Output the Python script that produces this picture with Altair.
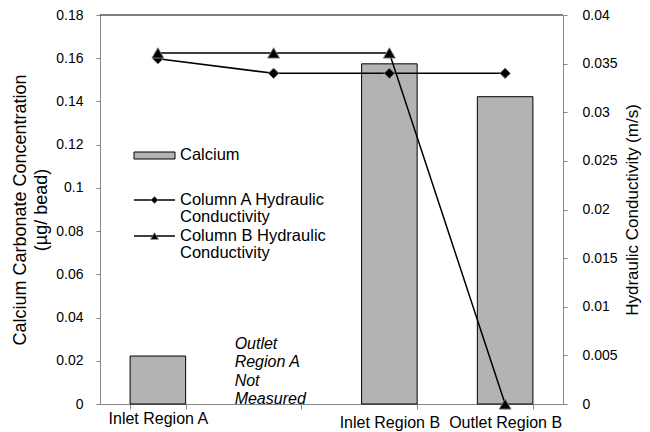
import altair as alt
import pandas as pd

# ---------------- data ----------------
categories = ["Inlet Region A", "Outlet Region A", "Inlet Region B", "Outlet Region B"]
calcium = [0.0222, None, 0.1574, 0.1422]
col_a_hc = [0.0355, 0.0340, 0.0340, 0.0340]
col_b_hc = [0.0361, 0.0361, 0.0361, 0.0]
series_names = ["Column A Hydraulic Conductivity", "Column B Hydraulic Conductivity"]
legend_labels = ["Calcium", "Column A Hydraulic\nConductivity", "Column B Hydraulic\nConductivity"]
note_region = "Outlet Region A"
note_text = "Outlet\nRegion A\nNot\nMeasured"
left_ticks = [0, 0.02, 0.04, 0.06, 0.08, 0.1, 0.12, 0.14, 0.16, 0.18]
right_ticks = [0, 0.005, 0.01, 0.015, 0.02, 0.025, 0.03, 0.035, 0.04]
left_title = ["Calcium Carbonate Concentration", "(\u00b5g/ bead)"]
right_title = "Hydraulic Conductivity (m/s)"

# ---------------- style ----------------
W, H = 463, 389
FONT = "Liberation Sans"
GRAY = "#868686"
BAR = "#b3b3b3"

bars_df = pd.DataFrame({"region": categories, "calcium": calcium}).dropna()
hc_df = pd.DataFrame({
    "region": categories * 2,
    "series": [series_names[0]] * 4 + [series_names[1]] * 4,
    "hc": col_a_hc + col_b_hc,
})
note_df = pd.DataFrame({"region": [note_region], "note": [note_text]})

x_enc = alt.X(
    "region:N",
    scale=alt.Scale(domain=categories, paddingInner=0.52, paddingOuter=0.26),
    axis=alt.Axis(
        title=None,
        labelExpr="datum.value == 'Outlet Region A' ? '' : datum.value",
        tickBand="extent",
        labelAngle=0,
        labelFontSize=16,
        labelPadding={"condition": {"test": "datum.value == 'Inlet Region A'", "value": 1}, "value": 5},
        tickSize=5,
        domainColor=GRAY,
        tickColor=GRAY,
        labelColor="black",
        grid=False,
    ),
)

bars = alt.Chart(bars_df).mark_bar(fill=BAR, stroke="black", strokeWidth=1).encode(
    x=x_enc,
    y=alt.Y(
        "calcium:Q",
        scale=alt.Scale(domain=[0, 0.18], nice=False),
        axis=alt.Axis(
            orient="left",
            values=left_ticks,
            format=".2~f",
            title=left_title,
            titleFontSize=18,
            titleFontWeight="normal",
            titleLineHeight=21,
            titlePadding=5,
            titleColor="black",
            labelFontSize=14,
            labelColor="black",
            labelPadding=13,
            tickSize=4,
            tickColor=GRAY,
            domainColor=GRAY,
            grid=False,
        ),
    ),
)

y_hc = alt.Y(
    "hc:Q",
    scale=alt.Scale(domain=[0, 0.04], nice=False),
    axis=alt.Axis(
        orient="right",
        values=right_ticks,
        format=".3~f",
        title=right_title,
        titleAngle=270,
        titleBaseline="top",
        titleFontSize=17,
        titleFontWeight="normal",
        titlePadding=7,
        titleColor="black",
        labelFontSize=14,
        labelColor="black",
        labelPadding=15,
        tickSize=4,
        tickColor=GRAY,
        domainColor=GRAY,
        grid=False,
    ),
)

lines = alt.Chart(hc_df).mark_line(color="black", strokeWidth=1.5).encode(
    x=x_enc, y=y_hc, detail="series:N"
)
points = alt.Chart(hc_df).mark_point(filled=True, fill="black", stroke="#7a7a7a", strokeWidth=1, opacity=1).encode(
    x=x_enc,
    y=y_hc,
    shape=alt.Shape("series:N", scale=alt.Scale(domain=series_names, range=["diamond", "triangle-up"]), legend=None),
    size=alt.Size("series:N", scale=alt.Scale(domain=series_names, range=[110, 140]), legend=None),
)
hc_layer = alt.layer(lines, points)

top_border = alt.Chart(note_df).mark_rule(color="black", strokeWidth=1).encode(
    x=alt.value(0), x2=alt.value(W), y=alt.value(0)
)

note = alt.Chart(note_df).mark_text(
    align="left", baseline="alphabetic", dx=-39, fontStyle="italic", fontSize=16,
    lineBreak="\n", lineHeight=18.3, color="black"
).encode(x=x_enc, y=alt.value(334), text="note:N")

# ---------------- manual legend ----------------
leg_df = pd.DataFrame({"a": [0]})
leg_rect = alt.Chart(leg_df).mark_rect(fill=BAR, stroke="black", strokeWidth=1).encode(
    x=alt.value(34), x2=alt.value(75), y=alt.value(137), y2=alt.value(144)
)
leg_txt0 = alt.Chart(leg_df).mark_text(align="left", baseline="middle", fontSize=16.5, color="black").encode(
    x=alt.value(80), y=alt.value(140), text=alt.value(legend_labels[0])
)
leg_rule_a = alt.Chart(leg_df).mark_rule(color="black", strokeWidth=1.5).encode(
    x=alt.value(34), x2=alt.value(75), y=alt.value(185)
)
leg_pt_a = alt.Chart(leg_df).mark_point(shape="diamond", filled=True, fill="black", stroke="#7a7a7a", strokeWidth=0.8, size=50, opacity=1).encode(
    x=alt.value(54.5), y=alt.value(185)
)
leg_txt_a = alt.Chart(leg_df).mark_text(align="left", baseline="middle", fontSize=16.5, lineBreak="\n", lineHeight=17, color="black").encode(
    x=alt.value(80), y=alt.value(185), text=alt.value(legend_labels[1])
)
leg_rule_b = alt.Chart(leg_df).mark_rule(color="black", strokeWidth=1.5).encode(
    x=alt.value(34), x2=alt.value(75), y=alt.value(221)
)
leg_pt_b = alt.Chart(leg_df).mark_point(shape="triangle-up", filled=True, fill="black", stroke="#7a7a7a", strokeWidth=0.8, size=60, opacity=1).encode(
    x=alt.value(54.5), y=alt.value(221)
)
leg_txt_b = alt.Chart(leg_df).mark_text(align="left", baseline="middle", fontSize=16.5, lineBreak="\n", lineHeight=17, color="black").encode(
    x=alt.value(80), y=alt.value(221), text=alt.value(legend_labels[2])
)

chart = alt.layer(
    bars, hc_layer, top_border, note,
    leg_rect, leg_txt0, leg_rule_a, leg_pt_a, leg_txt_a, leg_rule_b, leg_pt_b, leg_txt_b,
).resolve_scale(y="independent").properties(
    width=W, height=H,
    padding={"left": 92, "top": 7, "right": 79, "bottom": 27},
    autosize=alt.AutoSizeParams(type="none"),
).configure_axis(
    labelFont=FONT, titleFont=FONT
).configure_text(
    font=FONT
).configure_view(
    stroke=None
)

chart.save("out.html", embed_options={"renderer": "svg", "actions": False})
